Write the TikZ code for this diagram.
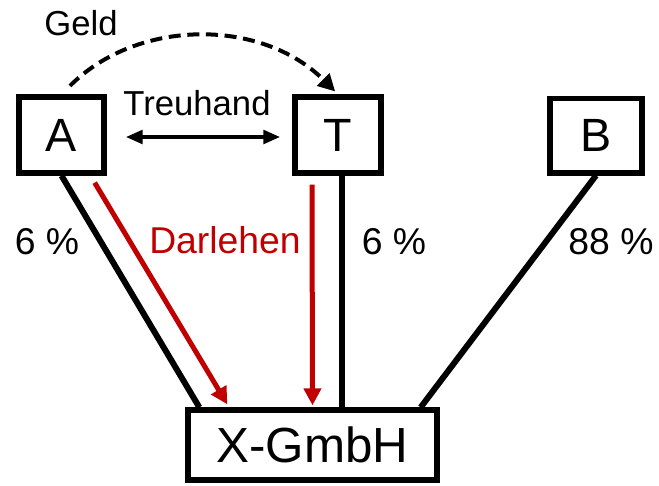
\documentclass[tikz,border=0pt]{standalone}
\usepackage{fontspec}
\setmainfont{Liberation Sans}
\usetikzlibrary{arrows.meta,calc}
\definecolor{loan}{HTML}{C00000}

\begin{document}
\begin{tikzpicture}[x=0.75pt, y=-0.75pt, font=\fontsize{35}{40}\selectfont]
      \tikzstyle{box} = [draw, line width=4pt, inner sep=0pt, fill=white]
      \tikzstyle{pct} = [font=\fontsize{28}{32}\selectfont]
      \tikzstyle{small} = [font=\fontsize{26}{30}\selectfont]
      \tikzstyle{tip} = [-{Triangle[length=12.75pt, width=12.75pt]}]
      \useasboundingbox (0,0) rectangle (659,485);
	\path
	node[box, minimum width=63.75pt, minimum height=57pt] (A) at (61.5,135) {A}
	node[box, minimum width=64.5pt, minimum height=57pt] (T) at (338,135) {T}
	node[box, minimum width=69pt, minimum height=56pt] (B) at (596,135.5) {B}
	node[box, minimum width=186.75pt, minimum height=52.5pt, font=\fontsize{37}{40}\selectfont] (X) at (312.5,445) {X-GmbH}
	node[pct] (pA) at (47,242) {6 \%}
	node[pct] (pT) at (394,242) {6 \%}
	node[pct] (pB) at (611,242) {88 \%}
	node[pct, loan] (dl) at (225,240) {Darlehen}
	node[small] (th) at (197,103) {Treuhand}
	node[small] (gd) at (81,23) {Geld}
	;
	\path[line width=4.5pt]
	(A.south) edge ($(X.north west)+(14,0)$)
	($(T.south)+(4,0)$) edge ($(X.north)+(29.5,0)$)
	(B.south) edge ($(X.north east)+(-19,0)$)
	;
	\path[line width=3.75pt, loan]
	($(A.south east)+(-12,7)$) edge[tip] ($(X.north west)+(42,-3)$)
	($(T.south)+(-26,9)$) edge[tip] ($(X.north)+(0,-2)$)
	;
	\path[line width=3.5pt]
	($(A.east)+(19,2)$) edge[{Triangle[length=12.75pt, width=10pt]}-{Triangle[length=12.75pt, width=10pt]}] ($(T.west)+(-12,2)$)
	(A.north) edge[tip, dashed, dash pattern=on 9pt off 5pt, line width=3pt, bend left=45, shorten <=9pt, shorten >=3pt] (T.north)
	;
\end{tikzpicture}
\end{document}
